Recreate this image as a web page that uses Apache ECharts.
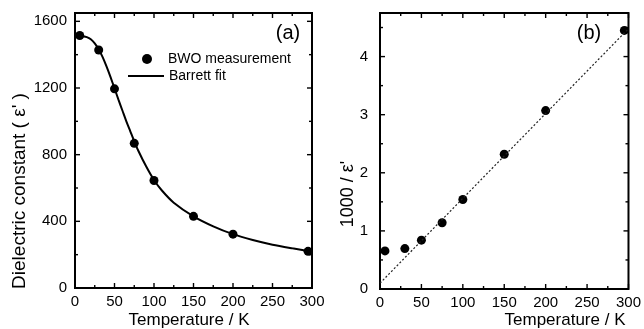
<!DOCTYPE html>
<html>
<head>
<meta charset="utf-8">
<script src="https://cdn.jsdelivr.net/npm/echarts@6/dist/echarts.min.js"></script>
<style>html,body{margin:0;padding:0;background:#fff}#c{width:644px;height:329px}</style>
</head>
<body>
<div id="c"></div>
<script>
// ---- data ----
const measT = [6, 30, 50, 75, 100, 150, 200, 295];
const measEps = [1515, 1428, 1195, 868, 645, 430, 323, 220];
const fitT = [0, 5, 10, 15, 20, 25, 30, 35, 40, 45, 50, 55, 60, 65, 70, 75, 80, 90, 100, 110, 125, 150, 175, 200, 225, 250, 275, 300];
const fitEps = [1512, 1512, 1510, 1505, 1492, 1468, 1432, 1385, 1328, 1265, 1198, 1130, 1065, 1000, 940, 880, 825, 730, 648, 585, 512, 430, 370, 323, 288, 260, 238, 218];
const invT = [6, 30, 50, 75, 100, 150, 200, 295];
const invEps = [0.655, 0.695, 0.84, 1.14, 1.54, 2.32, 3.07, 4.45];
const lineT = [0, 300];
const lineInv = [0.1, 4.48];
// tick values
const xMajorTicks = [0, 50, 100, 150, 200, 250, 300];
const xMinorTicks = [25, 75, 125, 175, 225, 275];
const yMajorTicksA = [0, 400, 800, 1200, 1600];
const yMinorTicksA = [200, 600, 1000, 1400];
const yMajorTicksB = [0, 1, 2, 3, 4];
const yMinorTicksB = [0.5, 1.5, 2.5, 3.5, 4.5];
const xRange = {min: 0, max: 300, major: 50};
const yRangeA = {min: 0, max: 1650, major: 400};
const yRangeB = {min: 0, max: 4.75, major: 1};

const FONT = '"Liberation Sans", Arial, sans-serif';

function ax(dim, grid, pos, t, margin) {
  return {
    type: 'value', gridIndex: grid, position: pos, min: t.min, max: t.max, interval: t.major,
    splitLine: {show: false},
    axisLine: {show: false, onZero: false},
    axisTick: {show: false},
    axisLabel: {show: true, color: '#000', fontSize: 15, fontFamily: FONT, margin: margin,
                showMaxLabel: dim === 'x', formatter: v => String(v)}
  };
}

// tick marks drawn on all four sides through the axes' own coordinate mapping
function tickSeries(dim, axisIdx, values, len) {
  return {
    type: 'custom', xAxisIndex: axisIdx, yAxisIndex: axisIdx, silent: true, z: 5,
    data: values.map(v => dim === 'x' ? [v, 0] : [0, v]),
    encode: {x: 0, y: 1},
    renderItem: (params, api) => {
      const cs = params.coordSys;
      const st = {stroke: '#000', lineWidth: 1.4};
      if (dim === 'x') {
        const p = api.coord([api.value(0), 0])[0];
        const yb = cs.y + cs.height, yt = cs.y;
        return {type: 'group', children: [
          {type: 'line', shape: {x1: p, y1: yb, x2: p, y2: yb - len}, style: st},
          {type: 'line', shape: {x1: p, y1: yt, x2: p, y2: yt + len}, style: st}
        ]};
      } else {
        const p = api.coord([0, api.value(1)])[1];
        const xl = cs.x, xr = cs.x + cs.width;
        return {type: 'group', children: [
          {type: 'line', shape: {x1: xl, y1: p, x2: xl + len, y2: p}, style: st},
          {type: 'line', shape: {x1: xr, y1: p, x2: xr - len, y2: p}, style: st}
        ]};
      }
    }
  };
}

const chart = echarts.init(document.getElementById('c'), null, {renderer: 'canvas'});
chart.setOption({
  animation: false,
  backgroundColor: '#fff',
  grid: [
    {left: 75, top: 13, width: 237, height: 275, show: true, borderColor: '#000', borderWidth: 2, backgroundColor: 'transparent'},
    {left: 380, top: 13, width: 250, height: 276, show: true, borderColor: '#000', borderWidth: 2, backgroundColor: 'transparent'}
  ],
  xAxis: [ax('x', 0, 'bottom', xRange, 6), ax('x', 1, 'bottom', xRange, 6)],
  yAxis: [ax('y', 0, 'left', yRangeA, 8), ax('y', 1, 'left', yRangeB, 12)],
  legend: [
    {data: ['BWO measurement'], left: 142, top: 52, padding: 0, icon: 'circle', itemWidth: 32, itemHeight: 10,
     selectedMode: false, textStyle: {fontSize: 14, fontFamily: FONT, color: '#000'}},
    {data: ['Barrett fit'], left: 128, top: 69, padding: 0, icon: 'rect', itemWidth: 36, itemHeight: 2,
     selectedMode: false, textStyle: {fontSize: 14, fontFamily: FONT, color: '#000'}}
  ],
  series: [
    tickSeries('x', 0, xMajorTicks, 5), tickSeries('x', 0, xMinorTicks, 3),
    tickSeries('y', 0, yMajorTicksA, 5), tickSeries('y', 0, yMinorTicksA, 3),
    tickSeries('x', 1, xMajorTicks, 5), tickSeries('x', 1, xMinorTicks, 3),
    tickSeries('y', 1, yMajorTicksB, 5), tickSeries('y', 1, yMinorTicksB, 3),
    {name: 'Barrett fit', type: 'line', xAxisIndex: 0, yAxisIndex: 0, smooth: 0.3, symbol: 'none',
     lineStyle: {color: '#000', width: 2}, itemStyle: {color: '#000'},
     data: fitT.map((t, i) => [t, fitEps[i]])},
    {name: 'BWO measurement', type: 'scatter', xAxisIndex: 0, yAxisIndex: 0, symbol: 'circle', symbolSize: 9,
     itemStyle: {color: '#000', opacity: 1}, data: measT.map((t, i) => [t, measEps[i]])},
    {name: 'linear', type: 'line', xAxisIndex: 1, yAxisIndex: 1, symbol: 'none',
     lineStyle: {color: '#222', width: 1.2, type: [2, 2]},
     data: lineT.map((t, i) => [t, lineInv[i]])},
    {name: 'inverse', type: 'scatter', xAxisIndex: 1, yAxisIndex: 1, symbol: 'circle', symbolSize: 9,
     itemStyle: {color: '#000', opacity: 1}, data: invT.map((t, i) => [t, invEps[i]])}
  ],
  graphic: [
    {type: 'text', x: 189, y: 320, style: {text: 'Temperature / K', font: '17px ' + FONT, fill: '#000', align: 'center', verticalAlign: 'middle'}},
    {type: 'text', x: 565, y: 320, style: {text: 'Temperature / K', font: '17px ' + FONT, fill: '#000', align: 'center', verticalAlign: 'middle'}},
    {type: 'text', x: 20, y: 191, rotation: Math.PI / 2,
     style: {text: "Dielectric constant ( ε' )", font: '19px ' + FONT, fill: '#000', align: 'center', verticalAlign: 'middle'}},
    {type: 'text', x: 348, y: 194, rotation: Math.PI / 2,
     style: {text: "1000 / ε'", font: '18px ' + FONT, fill: '#000', align: 'center', verticalAlign: 'middle'}},
    {type: 'text', x: 288, y: 33, style: {text: '(a)', font: '20px ' + FONT, fill: '#000', align: 'center', verticalAlign: 'middle'}},
    {type: 'text', x: 589, y: 33, style: {text: '(b)', font: '20px ' + FONT, fill: '#000', align: 'center', verticalAlign: 'middle'}}
  ]
});
</script>
</body>
</html>
